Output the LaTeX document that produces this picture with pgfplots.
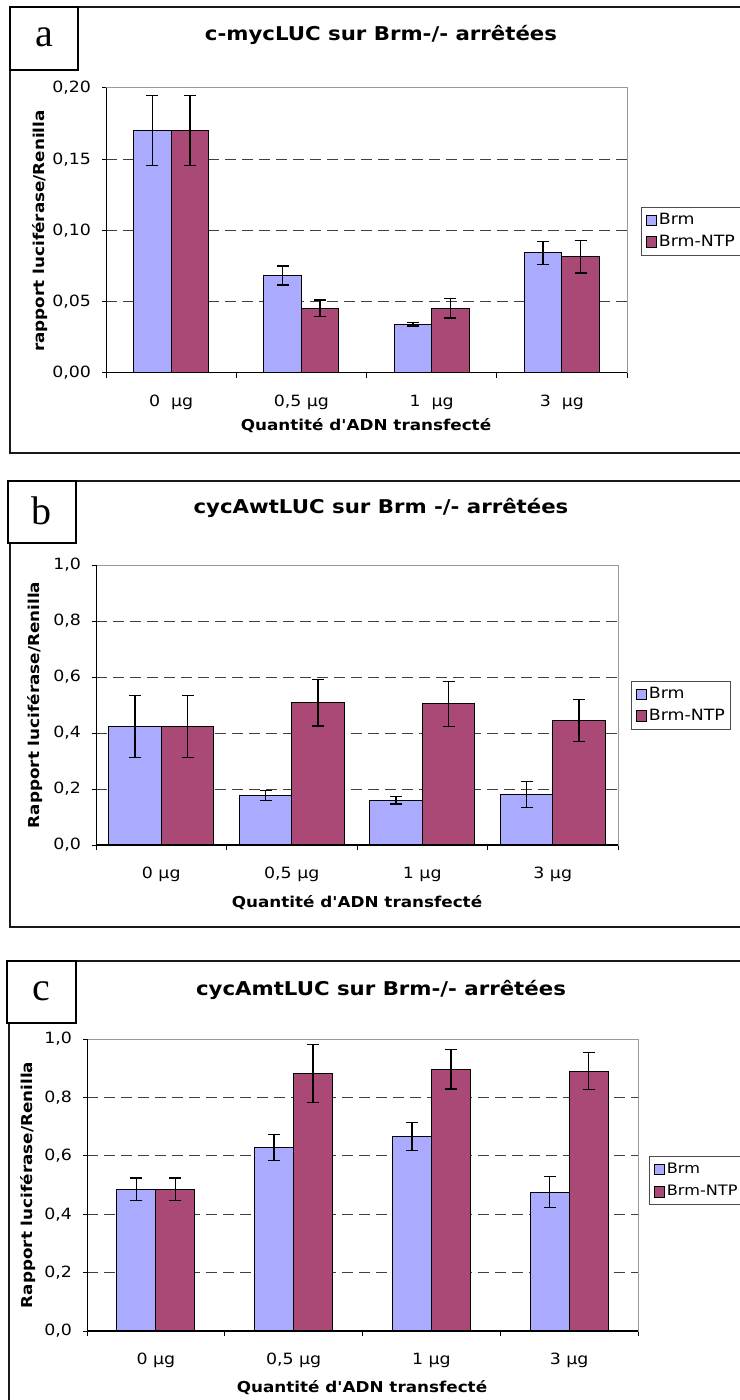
\documentclass[border=0pt]{standalone}
\usepackage{pgfplots}
\pgfplotsset{compat=1.18}
\usepackage{pgfplotstable}
\usepackage{fontspec}
\setmainfont{DejaVu Sans}[FakeStretch=1.12, Ligatures=TeXOff]
\newfontfamily\letterfont{Liberation Serif}
\definecolor{brm}{RGB}{170,170,255}
\definecolor{ntp}{RGB}{170,73,118}

\pgfplotstableread{
x brm be ntp ne
0 0.1703 0.0246 0.1703 0.0246
1 0.0684 0.0067 0.0454 0.0059
2 0.0342 0.0012 0.0454 0.0068
3 0.0843 0.0080 0.0817 0.0115
}\tabA
\pgfplotstableread{
x brm be ntp ne
0 0.423 0.110 0.423 0.110
1 0.177 0.018 0.508 0.083
2 0.160 0.014 0.504 0.081
3 0.180 0.047 0.444 0.075
}\tabB
\pgfplotstableread{
x brm be ntp ne
0 0.485 0.039 0.485 0.039
1 0.628 0.044 0.882 0.100
2 0.666 0.048 0.896 0.067
3 0.475 0.053 0.890 0.064
}\tabC

\pgfplotsset{
  myax/.style={
    scale only axis, ybar=0pt, xmin=-0.5, xmax=3.5, ymin=0,
    xtick={0,1,2,3}, major x tick style={draw=none},
    minor xtick={-0.5,0.5,1.5,2.5,3.5},
    tick align=outside, minor tick length=2.5pt, major tick length=2pt,
    xtick pos=bottom, ytick pos=left,
    ymajorgrids,
    grid style={black!75, dash pattern=on 5.5pt off 3pt, line width=0.5pt},
    axis line style={gray!80, line width=0.5pt},
    tick style={black, line width=0.5pt},
    ticklabel style={font=\fontsize{7.75}{9}\selectfont},
    xticklabel style={yshift=-5.5pt},
    /pgf/number format/assume math mode=true,
    legend style={draw=black!70, line width=0.5pt, fill=white, anchor=north west,
      font=\fontsize{7.75}{9}\selectfont, inner sep=2pt, row sep=1.5pt,
      nodes={inner sep=1pt}, cells={anchor=west}},
    legend entries={Brm, Brm-NTP},
  },
  legimg/.style={legend image code/.code={\draw[##1, line width=0.5pt] (0pt,-2.6pt) rectangle (5.2pt,2.6pt);}},
  bstyle/.style={draw=black, line width=0.5pt,
    error bars/y dir=both, error bars/y explicit,
    error bars/error bar style={black, line width=0.65pt},
    error bars/error mark options={black, line width=0.65pt, mark size=3pt, rotate=90}},
}

\newcommand{\blackaxes}{%
  \draw[black, line width=0.6pt] (rel axis cs:0,0) -- (rel axis cs:0,1);
  \draw[black, line width=0.6pt] (rel axis cs:0,0) -- (rel axis cs:1,0);}

\begin{document}
\begin{tikzpicture}[x=0.5pt, y=0.5pt]
\path[use as bounding box] (0,0) rectangle (739,-1400);
\tikzset{frame/.style={line width=0.75pt, black!90},
  lbox/.style={draw, line width=1pt, fill=white},
  ttl/.style={font=\fontsize{9.5}{11}\selectfont\bfseries},
  albl/.style={font=\fontsize{7.5}{9}\selectfont\bfseries}}

% ---------- panel a ----------
\draw[frame] (780,-7) -- (10,-7) -- (10,-453) -- (780,-453);
\begin{axis}[myax, at={(53pt,-186.5pt)}, anchor=south west,
  width=260.5pt, height=142.5pt, bar width=18.75pt,
  ymax=0.2, ytick={0,0.05,...,0.21},
  yticklabel style={xshift=-2pt, /pgf/number format/.cd, use comma, fixed, fixed zerofill, precision=2},
  xticklabels={{0\ \ µg},{0,5 µg},{1\ \ µg},{3\ \ µg}},
  legend style={at={(1.027,0.582)}}]
\addplot[bstyle, fill=brm, legimg] table[x=x, y=brm, y error=be] {\tabA};
\addplot[bstyle, fill=ntp, legimg] table[x=x, y=ntp, y error=ne] {\tabA};
\blackaxes
\end{axis}
\draw[lbox] (10,-7) rectangle (78,-70);
\node at (44,-37) {\letterfont\fontsize{20}{22}\selectfont a};
\node[ttl] at (381,-35) {c-mycLUC sur Brm-/- arrêtées};
\node[albl, rotate=90] at (40,-231) {rapport luciférase/Renilla};
\node[albl] at (366,-426) {Quantité d'ADN transfecté};

% ---------- panel b ----------
\draw[frame] (780,-481) -- (10,-481) -- (10,-927) -- (780,-927);
\begin{axis}[myax, at={(48pt,-422.5pt)}, anchor=south west,
  width=261pt, height=140pt, bar width=26.25pt,
  ymax=1, ytick={0,0.2,...,1.01},
  yticklabel style={xshift=-2pt, /pgf/number format/.cd, use comma, fixed, fixed zerofill, precision=1},
  xticklabels={{0 µg},{0,5 µg},{1 µg},{3 µg}},
  legend style={at={(1.025,0.586)}}]
\addplot[bstyle, fill=brm, legimg] table[x=x, y=brm, y error=be] {\tabB};
\addplot[bstyle, fill=ntp, legimg] table[x=x, y=ntp, y error=ne] {\tabB};
\blackaxes
\end{axis}
\draw[lbox] (8,-481) rectangle (76,-543);
\node at (42,-511) {\letterfont\fontsize{20}{22}\selectfont b};
\node[ttl] at (381,-508) {cycAwtLUC sur Brm -/- arrêtées};
\node[albl, rotate=90] at (35,-705) {Rapport luciférase/Renilla};
\node[albl] at (357,-903) {Quantité d'ADN transfecté};

% ---------- panel c ----------
\draw[frame] (780,-961) -- (9,-961) -- (9,-1420);
\begin{axis}[myax, at={(43.5pt,-665.5pt)}, anchor=south west,
  width=275.5pt, height=146pt, bar width=19.5pt,
  ymax=1, ytick={0,0.2,...,1.01},
  yticklabel style={xshift=-2pt, /pgf/number format/.cd, use comma, fixed, fixed zerofill, precision=1},
  xticklabels={{0 µg},{0,5 µg},{1 µg},{3 µg}},
  legend style={at={(1.020,0.599)}, font=\fontsize{7.2}{9}\selectfont, row sep=2.5pt}]
\addplot[bstyle, fill=brm, legimg] table[x=x, y=brm, y error=be] {\tabC};
\addplot[bstyle, fill=ntp, legimg] table[x=x, y=ntp, y error=ne] {\tabC};
\blackaxes
\end{axis}
\draw[lbox] (7,-961) rectangle (76,-1023);
\node at (41,-991) {\letterfont\fontsize{20}{22}\selectfont c};
\node[ttl] at (381,-990) {cycAmtLUC sur Brm-/- arrêtées};
\node[albl, rotate=90] at (28,-1185) {Rapport luciférase/Renilla};
\node[albl] at (362,-1388) {Quantité d'ADN transfecté};
\end{tikzpicture}
\end{document}
